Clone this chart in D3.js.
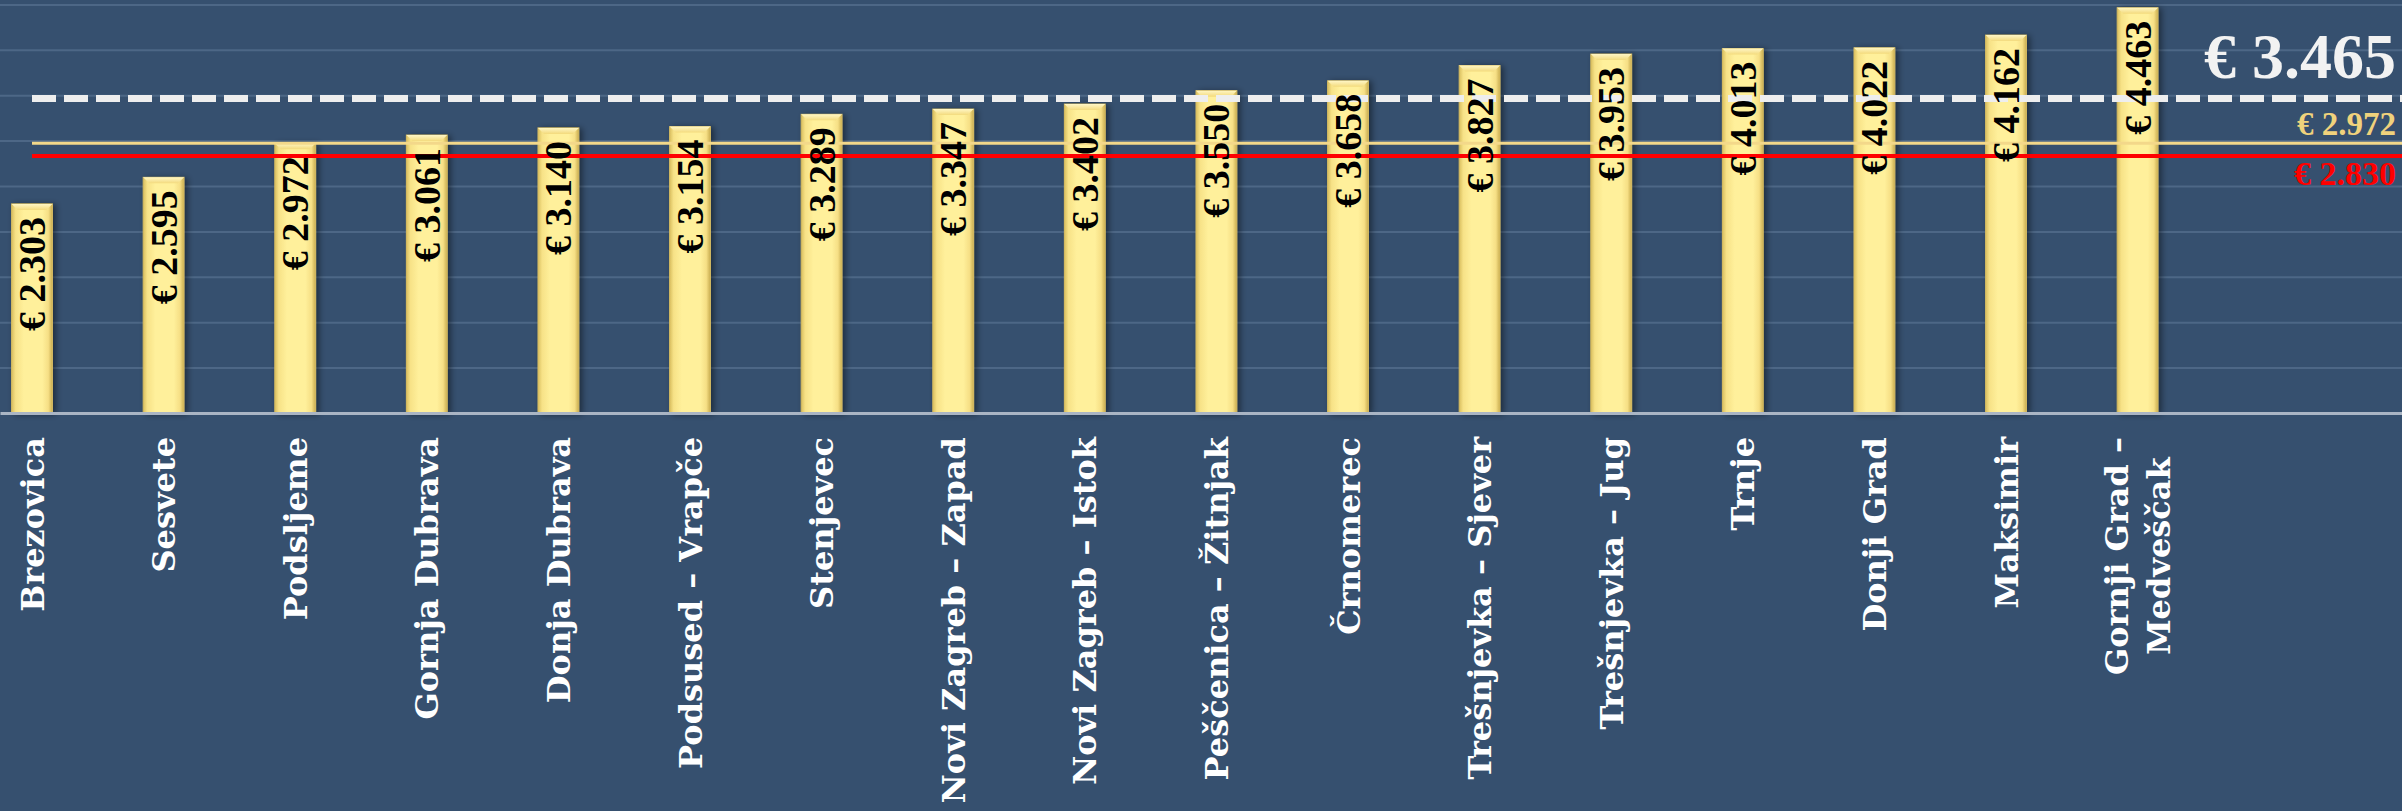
<!DOCTYPE html>
<html>
<head>
<meta charset="utf-8">
<script src="https://cdn.jsdelivr.net/npm/d3@7"></script>
<style>
  html, body { margin: 0; padding: 0; background: #36506f; overflow: hidden; }
</style>
</head>
<body>
<script>
// data
const districts = ["Brezovica", "Sesvete", "Podsljeme", "Gornja Dubrava", "Donja Dubrava",
  "Podsused – Vrapče", "Stenjevec", "Novi Zagreb – Zapad", "Novi Zagreb – Istok",
  "Peščenica – Žitnjak", "Črnomerec", "Trešnjevka – Sjever", "Trešnjevka – Jug",
  "Trnje", "Donji Grad", "Maksimir", "Gornji Grad – Medveščak"];
const prices = [2.303, 2.595, 2.972, 3.061, 3.140, 3.154, 3.289, 3.347, 3.402,
  3.550, 3.658, 3.827, 3.953, 4.013, 4.022, 4.162, 4.463];
const refValues = [3.465, 2.972, 2.830];   // white dashed, gold, red
const yTicks = [0.5, 1, 1.5, 2, 2.5, 3, 3.5, 4, 4.5];

const W = 2402, H = 811;
const baseY = 413, labelTop = 437;

const fmt = v => "€ " + d3.format(".3f")(v);

const svg = d3.select("body").append("svg")
  .attr("width", W)
  .attr("height", H)
  .style("display", "block")
  .style("background-color", "#36506f");

const defs = svg.append("defs");
const grad = defs.append("linearGradient").attr("id", "barGrad")
  .attr("x1", "0%").attr("x2", "100%").attr("y1", "0%").attr("y2", "0%");
[["0%", "#d9bf5f"], ["10%", "#f7e287"], ["30%", "#fff09b"], ["75%", "#fff09b"],
 ["90%", "#f6df85"], ["100%", "#c9ad50"]].forEach(s =>
  grad.append("stop").attr("offset", s[0]).attr("stop-color", s[1]));

const topGrad = defs.append("linearGradient").attr("id", "topGrad")
  .attr("x1", "0%").attr("x2", "0%").attr("y1", "0%").attr("y2", "100%");
topGrad.append("stop").attr("offset", "0%").attr("stop-color", "#fff6c4");
topGrad.append("stop").attr("offset", "100%").attr("stop-color", "#f3da7c");

const shadow = defs.append("filter").attr("id", "shadow")
  .attr("x", "-50%").attr("y", "-10%").attr("width", "200%").attr("height", "120%");
shadow.append("feDropShadow").attr("dx", 3).attr("dy", 1).attr("stdDeviation", 3)
  .attr("flood-color", "#000").attr("flood-opacity", 0.45);

const x = d3.scaleBand()
  .domain(districts)
  .range([-33.8, 2203.4])
  .paddingInner(0.69)
  .paddingOuter(0.345);

const y = d3.scaleLinear()
  .domain([0, 4.5])
  .range([baseY, baseY - 4.5 * 90.8]);

// gridlines
svg.append("g")
  .attr("class", "grid")
  .call(d3.axisLeft(y).tickValues(yTicks).tickSize(-W).tickFormat(""))
  .call(g => g.select(".domain").remove())
  .call(g => g.selectAll("line").attr("stroke", "#4d6786").attr("stroke-width", 2));

// bars
const bars = svg.append("g").selectAll("g")
  .data(prices)
  .enter()
  .append("g")
  .attr("filter", "url(#shadow)");

bars.append("rect")
  .attr("x", (d, i) => x(districts[i]))
  .attr("y", d => y(d))
  .attr("width", x.bandwidth())
  .attr("height", d => baseY - y(d))
  .attr("fill", "url(#barGrad)")
  .attr("stroke", "#d8bd62")
  .attr("stroke-width", 1);

// little bevel on top of each bar
bars.append("path")
  .attr("d", (d, i) => {
    const x0 = x(districts[i]), w = x.bandwidth(), t = y(d), b = 6;
    return `M${x0},${t}L${x0 + w},${t}L${x0 + w - b},${t + b}L${x0 + b},${t + b}Z`;
  })
  .attr("fill", "url(#topGrad)");

// x axis line
svg.append("g")
  .attr("transform", `translate(0,${baseY})`)
  .call(d3.axisBottom(d3.scaleLinear().domain([0, 1]).range([0, W])).ticks(0).tickSizeOuter(0))
  .call(g => g.select(".domain").attr("stroke", "#aab5c4").attr("stroke-width", 3));

// reference lines
const lineX0 = x(districts[0]) + x.bandwidth() / 2;
svg.append("line")
  .attr("x1", lineX0).attr("x2", W)
  .attr("y1", y(refValues[1])).attr("y2", y(refValues[1]))
  .attr("stroke", "#f3d88a").attr("stroke-width", 3);
svg.append("line")
  .attr("x1", lineX0).attr("x2", W)
  .attr("y1", y(refValues[2])).attr("y2", y(refValues[2]))
  .attr("stroke", "#ff0000").attr("stroke-width", 4);
svg.append("line")
  .attr("x1", lineX0).attr("x2", W)
  .attr("y1", y(refValues[0])).attr("y2", y(refValues[0]))
  .attr("stroke", "#eeeeee").attr("stroke-width", 7)
  .attr("stroke-dasharray", "24 8");

// value labels inside bars
svg.append("g").selectAll("text")
  .data(prices)
  .enter()
  .append("text")
  .attr("transform", (d, i) => `translate(${x(districts[i]) + x.bandwidth() / 2},${y(d) + 13}) rotate(-90)`)
  .attr("text-anchor", "end")
  .attr("dy", "0.34em")
  .style("font-family", "'Liberation Serif', serif")
  .style("font-weight", "bold")
  .style("font-size", "38px")
  .attr("fill", "#000")
  .text(d => fmt(d));

// category labels (rotated, wrapped when too long)
const maxLen = 385;
const catG = svg.append("g");
districts.forEach((name, i) => {
  const cx = x(name) + x.bandwidth() / 2;
  const t = catG.append("text")
    .attr("text-anchor", "middle")
    .style("font-family", "'DejaVu Serif', serif")
    .style("font-weight", "bold")
    .style("font-size", "32px")
    .attr("fill", "#ffffff");
  // greedy wrap
  const words = name.split(" ");
  const lines = [];
  let cur = "";
  words.forEach(w => {
    const test = cur ? cur + " " + w : w;
    t.text(test);
    if (t.node().getComputedTextLength() > maxLen && cur) {
      lines.push(cur);
      cur = w;
    } else {
      cur = test;
    }
  });
  lines.push(cur);
  t.text("");
  let longest = 0;
  lines.forEach(l => {
    t.text(l);
    longest = Math.max(longest, t.node().getComputedTextLength());
  });
  t.text("");
  const lh = 1.3;
  const off = -(lines.length - 1) * lh / 2;
  t.attr("transform", `translate(${cx},${labelTop + longest / 2}) rotate(-90)`);
  lines.forEach((l, k) => {
    t.append("tspan")
      .attr("x", 0)
      .attr("y", 0)
      .attr("dy", (off + k * lh + 0.36) + "em")
      .text(l);
  });
});

// reference labels on the right
const refLabels = [
  { v: refValues[0], yy: 78, size: 64, color: "#f2f2f2" },
  { v: refValues[1], yy: 135, size: 33, color: "#f0d27c" },
  { v: refValues[2], yy: 185, size: 34, color: "#ff0000" }
];
svg.append("g").selectAll("text")
  .data(refLabels)
  .enter()
  .append("text")
  .attr("x", 2396)
  .attr("y", d => d.yy)
  .attr("text-anchor", "end")
  .style("font-family", "'Liberation Serif', serif")
  .style("font-weight", "bold")
  .style("font-size", d => d.size + "px")
  .attr("fill", d => d.color)
  .text(d => fmt(d.v));
</script>
</body>
</html>
